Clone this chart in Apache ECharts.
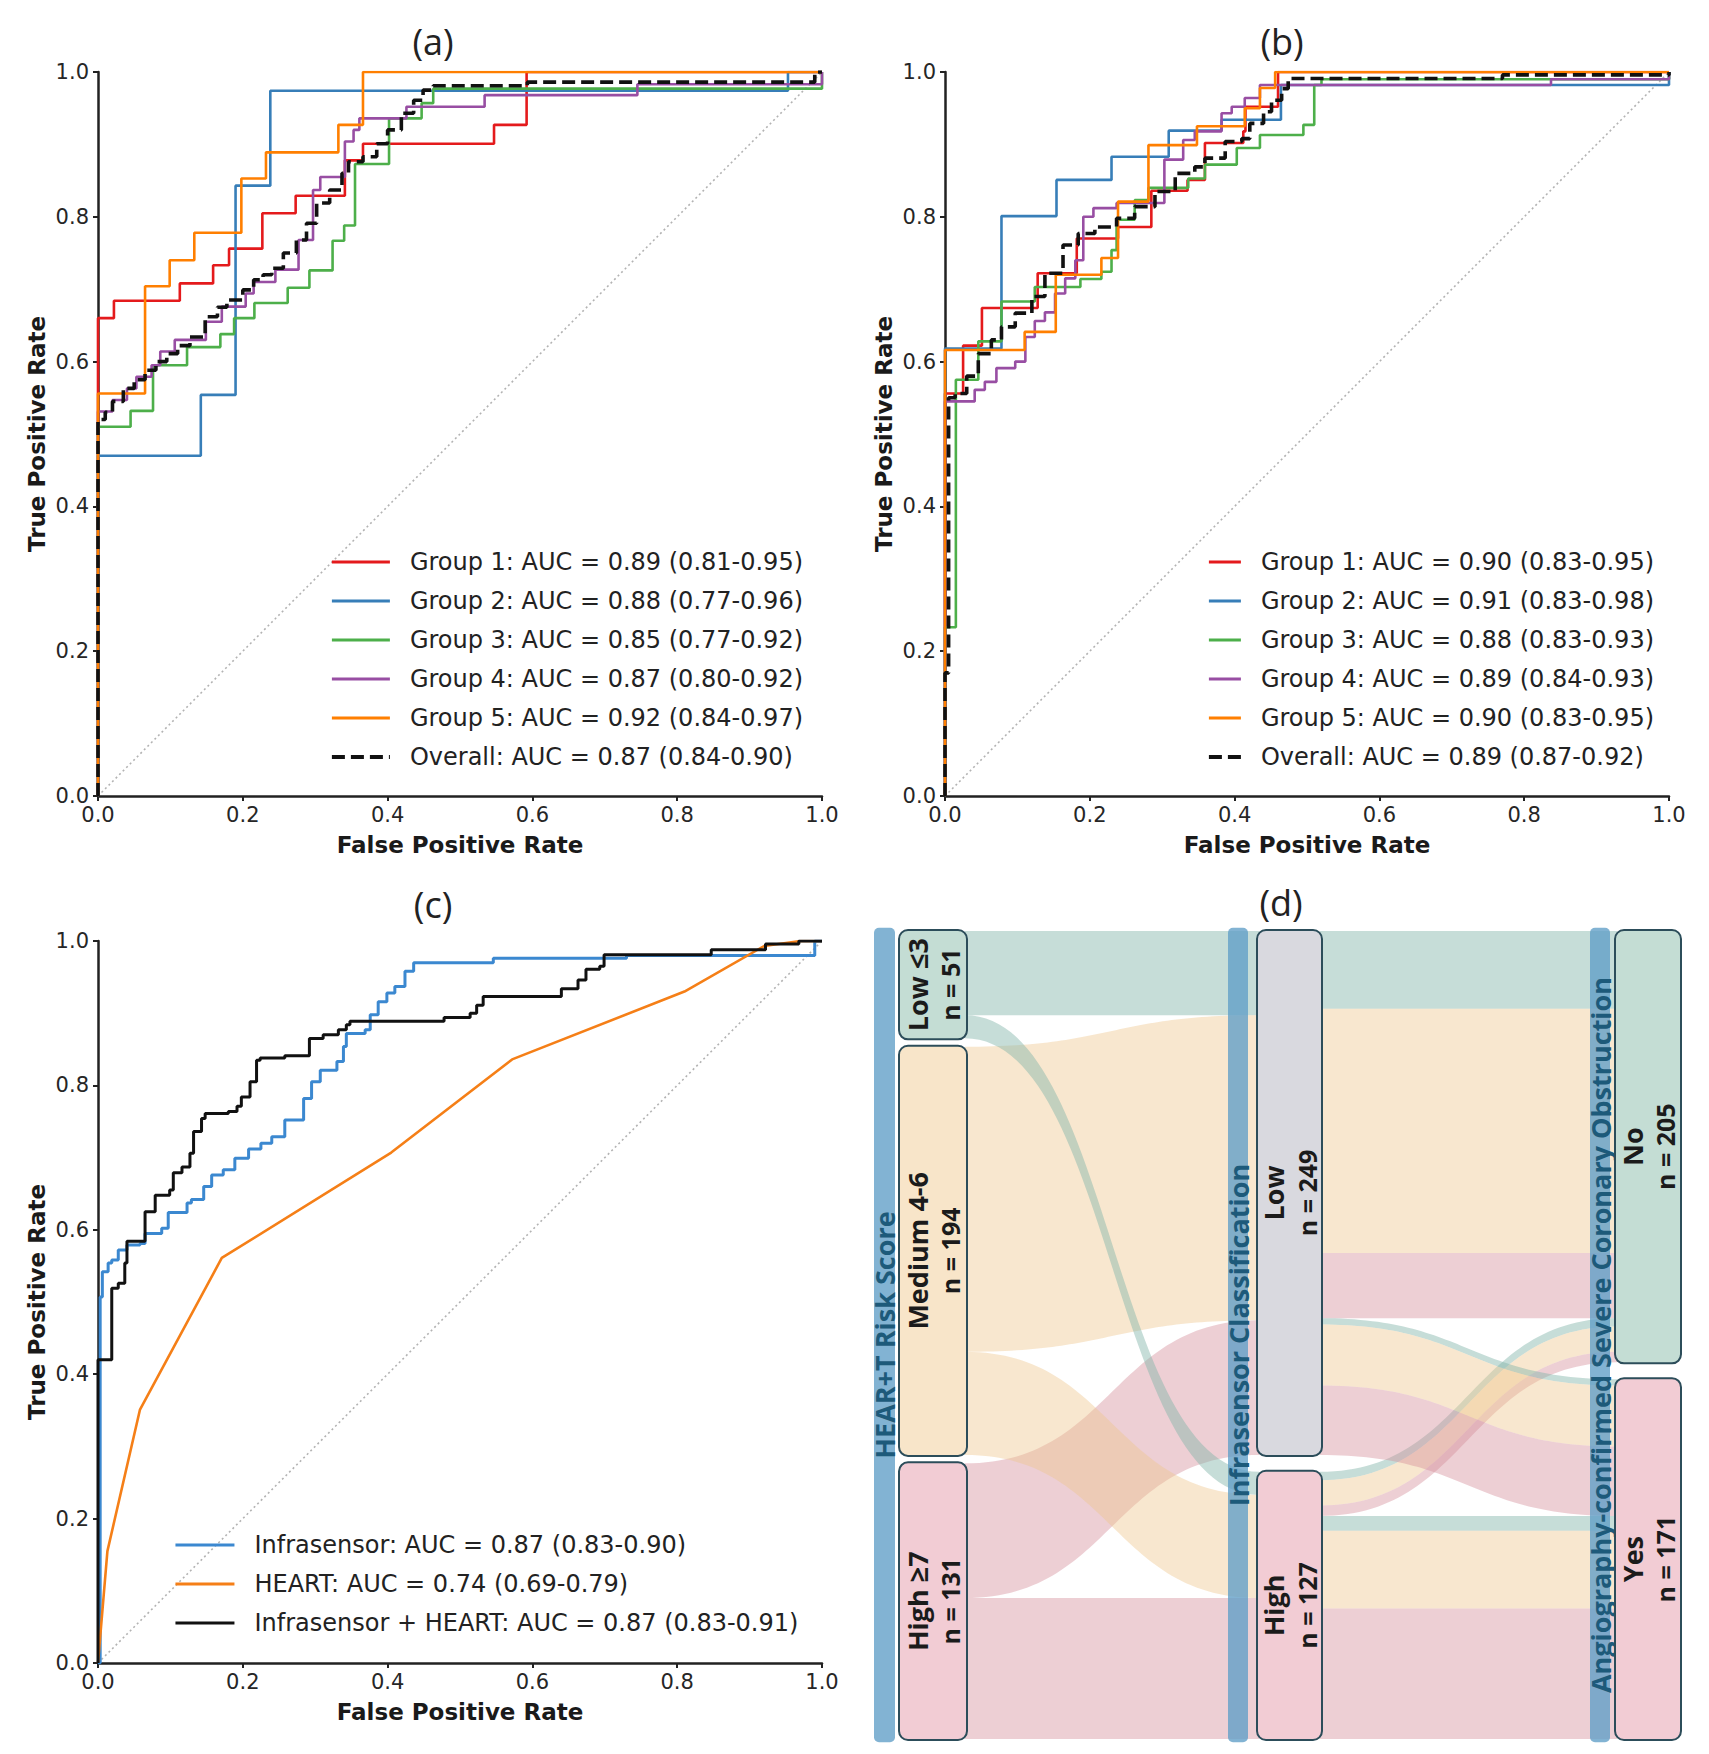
<!DOCTYPE html>
<html>
<head>
<meta charset="utf-8">
<script src="https://cdn.jsdelivr.net/npm/echarts@6/dist/echarts.min.js"></script>
<style>
html,body{margin:0;padding:0;background:#ffffff;}
#chart{width:1709px;height:1754px;}
</style>
</head>
<body>
<div id="chart"></div>
<script>
// ---------------- DATA ----------------
const tickLabels = ['0.0', '0.2', '0.4', '0.6', '0.8', '1.0'];

// Panel (a) ROC curves: [FPR, TPR] corner points (step after each point)
const namesA = [
  'Group 1: AUC = 0.89 (0.81-0.95)',
  'Group 2: AUC = 0.88 (0.77-0.96)',
  'Group 3: AUC = 0.85 (0.77-0.92)',
  'Group 4: AUC = 0.87 (0.80-0.92)',
  'Group 5: AUC = 0.92 (0.84-0.97)',
  'Overall: AUC = 0.87 (0.84-0.90)'
];
const rocA_g1 = [[0,0],[0,0.66],[0.022,0.684],[0.113,0.708],[0.159,0.733],[0.181,0.756],[0.227,0.805],[0.273,0.829],[0.341,0.878],[0.366,0.901],[0.547,0.927],[0.592,1],[1,1]];
const rocA_g2 = [[0,0],[0,0.47],[0.142,0.554],[0.19,0.843],[0.238,0.974],[0.953,1],[1,1]];
const rocA_g3 = [[0,0],[0,0.51],[0.045,0.532],[0.076,0.595],[0.123,0.62],[0.169,0.638],[0.188,0.66],[0.216,0.681],[0.262,0.702],[0.292,0.726],[0.324,0.767],[0.34,0.788],[0.355,0.873],[0.402,0.936],[0.447,0.957],[0.463,0.977],[1,0.977],[1,1]];
const rocA_g4 = [[0,0],[0,0.531],[0.02,0.547],[0.04,0.563],[0.053,0.579],[0.074,0.595],[0.086,0.614],[0.106,0.63],[0.149,0.655],[0.171,0.676],[0.204,0.694],[0.215,0.71],[0.245,0.727],[0.277,0.768],[0.297,0.837],[0.307,0.855],[0.341,0.904],[0.353,0.92],[0.361,0.936],[0.426,0.952],[0.534,0.968],[0.745,0.983],[1,1]];
const rocA_g5 = [[0,0],[0,0.556],[0.065,0.704],[0.099,0.74],[0.133,0.778],[0.198,0.853],[0.232,0.889],[0.332,0.927],[0.366,1],[1,1]];
const rocA_all = [[0,0],[0,0.52],[0.01,0.53],[0.02,0.545],[0.035,0.563],[0.05,0.575],[0.065,0.588],[0.08,0.6],[0.095,0.611],[0.11,0.622],[0.127,0.634],[0.148,0.662],[0.165,0.675],[0.178,0.685],[0.2,0.699],[0.215,0.713],[0.228,0.72],[0.24,0.729],[0.256,0.75],[0.274,0.768],[0.288,0.791],[0.302,0.819],[0.32,0.837],[0.337,0.86],[0.346,0.876],[0.366,0.883],[0.385,0.901],[0.4,0.92],[0.419,0.943],[0.436,0.961],[0.449,0.975],[0.463,0.981],[0.593,0.986],[0.99,1],[1,1]];

// Panel (b)
const namesB = [
  'Group 1: AUC = 0.90 (0.83-0.95)',
  'Group 2: AUC = 0.91 (0.83-0.98)',
  'Group 3: AUC = 0.88 (0.83-0.93)',
  'Group 4: AUC = 0.89 (0.84-0.93)',
  'Group 5: AUC = 0.90 (0.83-0.95)',
  'Overall: AUC = 0.89 (0.87-0.92)'
];
const rocB_g1 = [[0,0],[0,0.556],[0.025,0.622],[0.051,0.674],[0.128,0.722],[0.182,0.77],[0.239,0.786],[0.285,0.836],[0.335,0.851],[0.359,0.902],[0.412,0.918],[0.415,0.952],[0.46,1],[1,1]];
const rocB_g2 = [[0,0],[0,0.618],[0.078,0.801],[0.154,0.851],[0.23,0.883],[0.309,0.919],[0.382,0.934],[0.464,0.982],[1,1]];
const rocB_g3 = [[0,0],[0,0.233],[0.015,0.575],[0.046,0.628],[0.078,0.683],[0.124,0.703],[0.187,0.714],[0.216,0.724],[0.23,0.754],[0.237,0.796],[0.262,0.823],[0.281,0.84],[0.336,0.853],[0.359,0.872],[0.403,0.895],[0.435,0.913],[0.495,0.927],[0.51,0.982],[0.52,0.99],[1,1]];
const rocB_g4 = [[0,0],[0,0.545],[0.041,0.561],[0.055,0.572],[0.071,0.591],[0.097,0.6],[0.111,0.634],[0.124,0.656],[0.138,0.668],[0.152,0.694],[0.166,0.715],[0.18,0.74],[0.191,0.8],[0.205,0.812],[0.237,0.819],[0.303,0.879],[0.329,0.906],[0.345,0.918],[0.382,0.943],[0.396,0.952],[0.414,0.964],[0.435,0.982],[0.837,0.99],[1,1]];
const rocB_g5 = [[0,0],[0,0.616],[0.11,0.641],[0.153,0.72],[0.216,0.743],[0.239,0.821],[0.281,0.899],[0.348,0.925],[0.414,0.95],[0.435,0.978],[0.456,1],[1,1]];
const rocB_all = [[0,0],[0,0.17],[0.005,0.55],[0.014,0.556],[0.03,0.58],[0.046,0.611],[0.064,0.63],[0.078,0.648],[0.097,0.667],[0.12,0.69],[0.138,0.722],[0.163,0.761],[0.184,0.777],[0.207,0.786],[0.237,0.798],[0.262,0.814],[0.29,0.835],[0.318,0.86],[0.345,0.869],[0.359,0.881],[0.387,0.904],[0.41,0.908],[0.421,0.929],[0.44,0.945],[0.451,0.961],[0.465,0.977],[0.474,0.991],[0.77,0.996],[1,1]];

// Panel (c)
const namesC = [
  'Infrasensor: AUC = 0.87 (0.83-0.90)',
  'HEART: AUC = 0.74 (0.69-0.79)',
  'Infrasensor + HEART: AUC = 0.87 (0.83-0.91)'
];
const rocC_infra = [[0,0],[0.003,0.507],[0.006,0.542],[0.014,0.554],[0.019,0.558],[0.028,0.572],[0.04,0.579],[0.058,0.581],[0.065,0.595],[0.088,0.602],[0.097,0.624],[0.123,0.637],[0.129,0.642],[0.146,0.66],[0.157,0.676],[0.173,0.683],[0.189,0.699],[0.208,0.712],[0.225,0.72],[0.24,0.729],[0.258,0.752],[0.284,0.782],[0.295,0.805],[0.307,0.821],[0.33,0.833],[0.339,0.854],[0.343,0.872],[0.369,0.877],[0.376,0.898],[0.387,0.916],[0.399,0.928],[0.41,0.937],[0.424,0.958],[0.436,0.97],[0.546,0.976],[0.73,0.98],[0.99,1],[1,1]];
const rocC_heart = [[0,0],[0.013,0.155],[0.058,0.351],[0.171,0.561],[0.405,0.707],[0.572,0.836],[0.81,0.93],[0.92,0.993],[0.97,1],[1,1]];
const rocC_comb = [[0,0],[0,0.42],[0.019,0.519],[0.028,0.526],[0.037,0.554],[0.04,0.584],[0.065,0.625],[0.079,0.648],[0.099,0.655],[0.104,0.679],[0.116,0.687],[0.127,0.706],[0.132,0.736],[0.143,0.754],[0.148,0.761],[0.18,0.764],[0.192,0.771],[0.198,0.784],[0.21,0.805],[0.219,0.835],[0.224,0.838],[0.258,0.841],[0.292,0.865],[0.311,0.87],[0.332,0.877],[0.343,0.884],[0.348,0.889],[0.478,0.894],[0.514,0.9],[0.523,0.911],[0.532,0.923],[0.64,0.934],[0.663,0.946],[0.674,0.961],[0.693,0.965],[0.699,0.981],[0.847,0.988],[0.922,0.996],[0.968,1],[1,1]];

// Panel (d) alluvial data
const axisTitles = ['HEAR+T Risk Score', 'Infrasensor Classification', 'Angiography-confirmed Severe Coronary Obstruction'];
const hearNames = ['Low \u22643', 'Medium 4-6', 'High \u22657'];
const hearCounts = [51, 194, 131];
const infraNames = ['Low', 'High'];
const infraCounts = [249, 127];
const outcomeNames = ['No', 'Yes'];
const outcomeCounts = [205, 171];
// each path: HEAR+T group -> Infrasensor class -> outcome, with patient count
const pathHear    = [0, 0, 0, 0, 1, 1, 1, 1, 2, 2, 2, 2];
const pathInfra   = [0, 0, 1, 1, 0, 0, 1, 1, 0, 0, 1, 1];
const pathOutcome = [0, 1, 0, 1, 0, 1, 0, 1, 0, 1, 0, 1];
const pathCount   = [37, 3, 4, 7, 116, 29, 12, 37, 31, 33, 5, 62];

// ---------------- STYLE ----------------
const groupColors = ['#e41a1c', '#377eb8', '#4daf4a', '#984ea3', '#ff7f00', '#111111'];
const cColors = ['#3b88d0', '#f57f17', '#111111'];
const TEXT_FONT = 'DejaVu Sans';
const SK_FONT = 'Open Sans';

const chart = echarts.init(document.getElementById('chart'), null, {renderer: 'svg', width: 1709, height: 1754});

function xAxisROC(gi) {
  return {
    gridIndex: gi, type: 'value', min: 0, max: 1, interval: 0.2,
    axisLine: {show: true, onZero: false, lineStyle: {color: '#222', width: 2.5}},
    axisTick: {show: true, length: 5, lineStyle: {color: '#222', width: 2}},
    axisLabel: {show: true, formatter: v => tickLabels[Math.round(v / 0.2)], fontSize: 21, fontFamily: TEXT_FONT,
      color: '#262626', margin: 8, showMinLabel: true, showMaxLabel: true},
    splitLine: {show: false},
    name: 'False Positive Rate', nameLocation: 'middle', nameGap: 37, nameMoveOverlap: false,
    nameTextStyle: {fontFamily: TEXT_FONT, fontWeight: 'bold', fontSize: 23, color: '#1a1a1a'}
  };
}
function yAxisROC(gi) {
  return {
    gridIndex: gi, type: 'value', min: 0, max: 1, interval: 0.2,
    axisLine: {show: true, onZero: false, lineStyle: {color: '#222', width: 2.5}},
    axisTick: {show: true, length: 5, lineStyle: {color: '#222', width: 2}},
    axisLabel: {show: true, formatter: v => tickLabels[Math.round(v / 0.2)], fontSize: 21, fontFamily: TEXT_FONT,
      color: '#262626', margin: 9, showMinLabel: true, showMaxLabel: true},
    splitLine: {show: false},
    name: 'True Positive Rate', nameLocation: 'middle', nameGap: 50, nameMoveOverlap: false,
    nameTextStyle: {fontFamily: TEXT_FONT, fontWeight: 'bold', fontSize: 23, color: '#1a1a1a'}
  };
}
function rocLine(name, data, color, width, gi, opts) {
  opts = opts || {};
  return {
    type: 'line', name: name, data: data, xAxisIndex: gi, yAxisIndex: gi,
    step: opts.noStep ? false : 'end', showSymbol: false, symbol: 'none', animation: false,
    lineStyle: {color: color, width: width, type: opts.dash || 'solid'},
    itemStyle: {color: color}, z: opts.z || 3, silent: true
  };
}
function diag(gi) {
  return {
    type: 'line', name: 'chance-' + gi, data: [[0, 0], [1, 1]], xAxisIndex: gi, yAxisIndex: gi,
    showSymbol: false, symbol: 'none', animation: false, silent: true, z: 2,
    lineStyle: {color: '#b3b3b3', width: 1.6, type: [2, 3]}
  };
}
function legendFor(names, left, top, iw) {
  return {
    orient: 'vertical', left: left, top: top, padding: 0, itemWidth: iw, itemHeight: 14, itemGap: 13,
    selectedMode: false,
    itemStyle: {opacity: 0, borderWidth: 0},
    lineStyle: {width: 2.9},
    textStyle: {fontFamily: TEXT_FONT, fontSize: 24, lineHeight: 26, color: '#222', padding: [0, 0, 0, 15]},
    data: names.map(n => (n.indexOf('Overall') === 0 ? {name: n, lineStyle: {width: 3.8}} : {name: n}))
  };
}

// ---------------- ALLUVIAL LAYOUT ----------------
const GAP_TOTAL = 8;
const SK_MAX = hearCounts.reduce((a, b) => a + b, 0) + GAP_TOTAL;
function stackNodes(counts) {
  const gap = GAP_TOTAL / (counts.length - 1);
  let y = 0;
  return counts.map(c => { const r = [y, y + c]; y += c + gap; return r; });
}
const hearY = stackNodes(hearCounts);
const infraY = stackNodes(infraCounts);
const outY = stackNodes(outcomeCounts);
// column geometry (px offsets inside the alluvial grid)
const COLS = [
  {bar: [0, 21], node: [25, 93]},
  {bar: [354, 374], node: [383, 448]},
  {bar: [716, 736], node: [741, 807]}
];
const linkData = [];
// stage 1: HEAR+T -> Infrasensor (aggregated per pair, colored by HEAR+T group)
const agg = hearNames.map(() => infraNames.map(() => 0));
pathCount.forEach((c, p) => { agg[pathHear[p]][pathInfra[p]] += c; });
const hOff = hearY.map(r => r[0]);
const leftRange = {};
hearNames.forEach((_, h) => infraNames.forEach((__, i) => {
  leftRange[h + '-' + i] = [hOff[h], hOff[h] + agg[h][i]]; hOff[h] += agg[h][i];
}));
const iInOff = infraY.map(r => r[0]);
infraNames.forEach((_, i) => hearNames.forEach((__, h) => {
  const l = leftRange[h + '-' + i];
  const r = [iInOff[i], iInOff[i] + agg[h][i]]; iInOff[i] += agg[h][i];
  if (agg[h][i] > 0) linkData.push([COLS[0].node[1] - 2, COLS[1].node[0] + 2, l[0], l[1], r[0], r[1], h]);
}));
// stage 2: Infrasensor -> outcome (per path, colored by HEAR+T group)
const iOutOff = infraY.map(r => r[0]);
const stage2Left = {};
infraNames.forEach((_, i) => outcomeNames.forEach((__, o) => hearNames.forEach((___, h) => {
  pathCount.forEach((c, p) => {
    if (pathHear[p] === h && pathInfra[p] === i && pathOutcome[p] === o) {
      stage2Left[p] = [iOutOff[i], iOutOff[i] + c]; iOutOff[i] += c;
    }
  });
})));
const oInOff = outY.map(r => r[0]);
outcomeNames.forEach((_, o) => infraNames.forEach((__, i) => hearNames.forEach((___, h) => {
  pathCount.forEach((c, p) => {
    if (pathHear[p] === h && pathInfra[p] === i && pathOutcome[p] === o) {
      const l = stage2Left[p];
      const r = [oInOff[o], oInOff[o] + c]; oInOff[o] += c;
      linkData.push([COLS[1].node[1] - 2, COLS[2].node[0] + 2, l[0], l[1], r[0], r[1], h]);
    }
  });
})));

const LINK_COLORS = ['rgba(128,180,168,0.45)', 'rgba(238,198,140,0.42)', 'rgba(212,140,152,0.42)'];
const NODE_FILLS = ['#c4ddd4', '#f8e5c9', '#f2ccd4', '#d9d9df'];
const nodeData = [], nodeLabels = [];
hearNames.forEach((n, k) => { nodeData.push([COLS[0].node[0], COLS[0].node[1], hearY[k][0], hearY[k][1], k]); nodeLabels.push([n, 'n = ' + hearCounts[k]]); });
infraNames.forEach((n, k) => { nodeData.push([COLS[1].node[0], COLS[1].node[1], infraY[k][0], infraY[k][1], k === 0 ? 3 : 2]); nodeLabels.push([n, 'n = ' + infraCounts[k]]); });
outcomeNames.forEach((n, k) => { nodeData.push([COLS[2].node[0], COLS[2].node[1], outY[k][0], outY[k][1], k === 0 ? 0 : 2]); nodeLabels.push([n, 'n = ' + outcomeCounts[k]]); });
const barData = COLS.map((c, k) => [c.bar[0], c.bar[1], -1.5, SK_MAX + 1.5, k]);

function renderBand(params, api) {
  const x0 = api.value(0), x1 = api.value(1);
  const p0t = api.coord([x0, api.value(2)]), p0b = api.coord([x0, api.value(3)]);
  const p1t = api.coord([x1, api.value(4)]), p1b = api.coord([x1, api.value(5)]);
  const ci = api.value(6);
  const xm = (p0t[0] + p1t[0]) / 2;
  const N = 60, top = [], bot = [];
  for (let k = 0; k <= N; k++) {
    const t = k / N, u = 1 - t;
    const bx = u * u * u * p0t[0] + 3 * u * u * t * xm + 3 * u * t * t * xm + t * t * t * p1t[0];
    const w = 3 * u * t * t + t * t * t;
    top.push([bx, p0t[1] + (p1t[1] - p0t[1]) * w]);
    bot.push([bx, p0b[1] + (p1b[1] - p0b[1]) * w]);
  }
  return {type: 'polygon', shape: {points: top.concat(bot.reverse())}, style: {fill: LINK_COLORS[ci]}};
}
function renderNode(params, api) {
  const a = api.coord([api.value(0), api.value(2)]);
  const b = api.coord([api.value(1), api.value(3)]);
  const lab = nodeLabels[params.dataIndex];
  const cx = (a[0] + b[0]) / 2, cy = (a[1] + b[1]) / 2;
  return {type: 'group', children: [
    {type: 'rect', shape: {x: a[0], y: a[1] - 1, width: b[0] - a[0], height: b[1] - a[1] + 2, r: 9},
      style: {fill: NODE_FILLS[api.value(4)], stroke: '#2c4d5a', lineWidth: 2}},
    {type: 'text', x: cx - 16, y: cy, rotation: Math.PI / 2,
      style: {text: lab[0], align: 'center', verticalAlign: 'middle', fontFamily: SK_FONT, fontWeight: 'bold', fontSize: 27, fill: '#1b1b1b'}},
    {type: 'text', x: cx + 17, y: cy, rotation: Math.PI / 2,
      style: {text: lab[1], align: 'center', verticalAlign: 'middle', fontFamily: SK_FONT, fontWeight: 'bold', fontSize: 25, fill: '#1b1b1b'}}
  ]};
}
function renderBar(params, api) {
  const a = api.coord([api.value(0), api.value(2)]);
  const b = api.coord([api.value(1), api.value(3)]);
  return {type: 'group', children: [
    {type: 'rect', shape: {x: a[0], y: a[1], width: b[0] - a[0], height: b[1] - a[1], r: 5},
      style: {fill: 'rgba(95,158,198,0.78)'}},
    {type: 'text', x: (a[0] + b[0]) / 2, y: (a[1] + b[1]) / 2, rotation: Math.PI / 2,
      style: {text: axisTitles[api.value(4)], align: 'center', verticalAlign: 'middle', fontFamily: SK_FONT, fontWeight: 'bold', fontSize: 27, fill: '#1d5a7a'}}
  ]};
}

// ---------------- OPTION ----------------
const titleStyle = {fontFamily: SK_FONT, fontWeight: 'normal', fontSize: 36, color: '#222'};
const option = {
  animation: false,
  backgroundColor: '#ffffff',
  title: [
    {text: '(a)', left: 433, top: 41, textAlign: 'center', textVerticalAlign: 'middle', padding: 0, textStyle: titleStyle},
    {text: '(b)', left: 1282, top: 41, textAlign: 'center', textVerticalAlign: 'middle', padding: 0, textStyle: titleStyle},
    {text: '(c)', left: 433, top: 904, textAlign: 'center', textVerticalAlign: 'middle', padding: 0, textStyle: titleStyle},
    {text: '(d)', left: 1281, top: 902, textAlign: 'center', textVerticalAlign: 'middle', padding: 0, textStyle: titleStyle}
  ],
  grid: [
    {left: 98, top: 72, width: 724, height: 724, outerBoundsMode: 'none'},
    {left: 945, top: 72, width: 724, height: 724, outerBoundsMode: 'none'},
    {left: 98, top: 941, width: 724, height: 722, outerBoundsMode: 'none'},
    {left: 874, top: 931, width: 807, height: 808, outerBoundsMode: 'none'}
  ],
  xAxis: [xAxisROC(0), xAxisROC(1), xAxisROC(2),
    {gridIndex: 3, type: 'value', min: 0, max: 807, show: false}],
  yAxis: [yAxisROC(0), yAxisROC(1), yAxisROC(2),
    {gridIndex: 3, type: 'value', min: 0, max: SK_MAX, inverse: true, show: false}],
  legend: [
    legendFor(namesA, 330, 549, 58),
    legendFor(namesB, 1207, 549, 32),
    legendFor(namesC, 174, 1532, 59)
  ],
  series: [
    diag(0),
    rocLine(namesA[0], rocA_g1, groupColors[0], 2.6, 0),
    rocLine(namesA[1], rocA_g2, groupColors[1], 2.6, 0),
    rocLine(namesA[2], rocA_g3, groupColors[2], 2.6, 0),
    rocLine(namesA[3], rocA_g4, groupColors[3], 2.6, 0),
    rocLine(namesA[4], rocA_g5, groupColors[4], 2.6, 0),
    rocLine(namesA[5], rocA_all, groupColors[5], 3.6, 0, {dash: [13, 6], z: 4}),
    diag(1),
    rocLine(namesB[0], rocB_g1, groupColors[0], 2.6, 1),
    rocLine(namesB[1], rocB_g2, groupColors[1], 2.6, 1),
    rocLine(namesB[2], rocB_g3, groupColors[2], 2.6, 1),
    rocLine(namesB[3], rocB_g4, groupColors[3], 2.6, 1),
    rocLine(namesB[4], rocB_g5, groupColors[4], 2.6, 1),
    rocLine(namesB[5], rocB_all, groupColors[5], 3.6, 1, {dash: [13, 6], z: 4}),
    diag(2),
    rocLine(namesC[0], rocC_infra, cColors[0], 3, 2),
    rocLine(namesC[1], rocC_heart, cColors[1], 2.6, 2, {noStep: true}),
    rocLine(namesC[2], rocC_comb, cColors[2], 3, 2),
    {type: 'custom', name: 'links', coordinateSystem: 'cartesian2d', xAxisIndex: 3, yAxisIndex: 3,
      data: linkData, renderItem: renderBand, silent: true, z: 1, animation: false},
    {type: 'custom', name: 'axes-bars', coordinateSystem: 'cartesian2d', xAxisIndex: 3, yAxisIndex: 3,
      data: barData, renderItem: renderBar, silent: true, z: 2, animation: false},
    {type: 'custom', name: 'nodes', coordinateSystem: 'cartesian2d', xAxisIndex: 3, yAxisIndex: 3,
      data: nodeData, renderItem: renderNode, silent: true, z: 3, animation: false}
  ]
};
chart.setOption(option);
</script>
</body>
</html>
